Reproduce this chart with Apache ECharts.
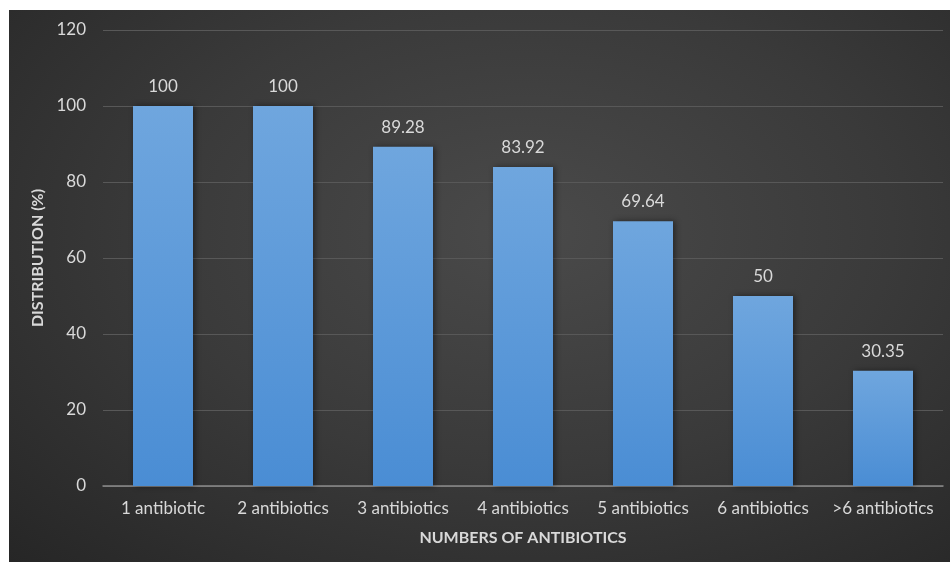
<!DOCTYPE html>
<html>
<head>
<meta charset="utf-8">
<script src="https://cdn.jsdelivr.net/npm/echarts@6/dist/echarts.min.js"></script>
<style>
    html, body { margin: 0; padding: 0; background: #ffffff; }
    #chart {
        position: absolute;
        left: 9px;
        top: 10px;
        width: 941px;
        height: 552px;
        background: radial-gradient(ellipse at 55% 40%, #4a4a4a 0%, #3a3a3a 50%, #262626 100%);
    }
</style>
</head>
<body>
<div id="chart"></div>
<script>
let categories = ['1 antibiotic', '2 antibiotics', '3 antibiotics', '4 antibiotics', '5 antibiotics', '6 antibiotics', '>6 antibiotics'];
let distribution = [100, 100, 89.28, 83.92, 69.64, 50, 30.35];
let yTicks = {min: 0, max: 120, interval: 20};

let chart = echarts.init(document.getElementById('chart'));

let option = {
    backgroundColor: 'transparent',
    textStyle: {
        fontFamily: 'Lato'
    },
    grid: {
        left: 94,
        right: 7,
        top: 20,
        bottom: 76
    },
    xAxis: {
        type: 'category',
        data: categories,
        name: 'NUMBERS OF ANTIBIOTICS',
        nameLocation: 'middle',
        nameGap: 44,
        nameTextStyle: {
            color: '#d9d9d9',
            fontSize: 16,
            fontWeight: 'bold'
        },
        axisLine: {
            lineStyle: { color: '#8a8a8a', width: 1.5 }
        },
        axisTick: { show: false },
        axisLabel: {
            color: '#d9d9d9',
            fontSize: 17,
            margin: 14,
            interval: 0,
            hideOverlap: false
        }
    },
    yAxis: {
        type: 'value',
        min: yTicks.min,
        max: yTicks.max,
        interval: yTicks.interval,
        name: 'DISTRIBUTION (%)',
        nameLocation: 'middle',
        nameGap: 54,
        nameTextStyle: {
            color: '#d9d9d9',
            fontSize: 16,
            fontWeight: 'bold'
        },
        axisLine: { show: false },
        axisTick: { show: false },
        axisLabel: {
            color: '#d9d9d9',
            fontSize: 17,
            margin: 17
        },
        splitLine: {
            lineStyle: { color: '#585858', width: 1 }
        }
    },
    series: [
        {
            type: 'bar',
            data: distribution,
            barWidth: '50%',
            itemStyle: {
                color: new echarts.graphic.LinearGradient(0, 0, 0, 1, [
                    { offset: 0, color: '#6fa6de' },
                    { offset: 1, color: '#4a8dd4' }
                ]),
                shadowColor: 'rgba(0,0,0,0.45)',
                shadowBlur: 6,
                shadowOffsetX: 2
            },
            label: {
                show: true,
                position: 'top',
                distance: 11,
                color: '#d9d9d9',
                fontSize: 17
            }
        }
    ]
};

chart.setOption(option);
</script>
</body>
</html>
